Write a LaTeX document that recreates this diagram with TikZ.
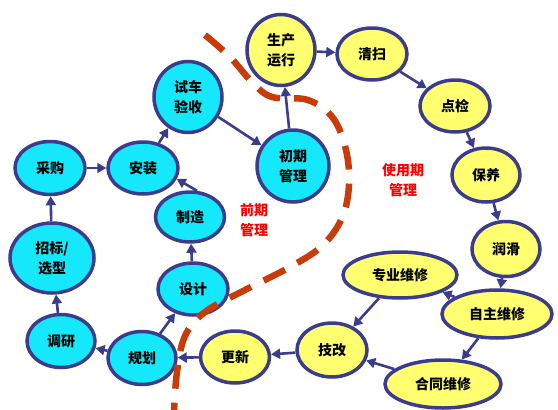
\documentclass[tikz,border=0pt]{standalone}
\usepackage{fontspec}
\setmainfont{Noto Sans CJK SC}
\usetikzlibrary{shapes.geometric,arrows.meta}
\definecolor{rim}{RGB}{60,60,140}
\definecolor{cyanfill}{RGB}{20,232,250}
\definecolor{yellowfill}{RGB}{255,255,112}
\definecolor{dashred}{RGB}{200,60,10}
\begin{document}
\begin{tikzpicture}[x=1pt,y=-1pt,
	phase/.style={ellipse,draw=rim,line width=3.5pt,inner sep=0pt,
		font=\fontsize{14}{20}\selectfont\bfseries,align=center},
	early/.style={phase,fill=cyanfill},
	later/.style={phase,fill=yellowfill},
	flow/.style={draw=rim,line width=2.6pt,-{Triangle[length=9pt,width=10pt]}},
	tag/.style={text=red,font=\fontsize{14}{20}\selectfont\bfseries,align=center}]
	\useasboundingbox (0,0) rectangle (558,410);

	\node[early,minimum width=70pt,minimum height=53pt] (caigou) at (50,168) {采购};
	\node[early,minimum width=70pt,minimum height=52pt] (anzhuang) at (143,168) {安装};
	\node[early,minimum width=68pt,minimum height=71pt] (shiche) at (188,97) {试车\\验收};
	\node[early,minimum width=72pt,minimum height=72pt] (chuqi) at (293,166) {初期\\管理};
	\node[early,minimum width=84pt,minimum height=70pt] (zhaobiao) at (52,258) {招标/\\选型};
	\node[early,minimum width=68pt,minimum height=53pt] (diaoyan) at (61,341) {调研};
	\node[early,minimum width=68pt,minimum height=53pt] (guihua) at (142,358) {规划};
	\node[early,minimum width=70pt,minimum height=52pt] (sheji) at (193,289) {设计};
	\node[early,minimum width=69pt,minimum height=50pt] (zhizao) at (190,217) {制造};

	\node[later,minimum width=68pt,minimum height=71pt] (shengchan) at (281,50) {生产\\运行};
	\node[later,minimum width=70pt,minimum height=52pt] (qingsao) at (372,54) {清扫};
	\node[later,minimum width=70pt,minimum height=52pt] (dianjian) at (455,106) {点检};
	\node[later,minimum width=68pt,minimum height=54pt] (baoyang) at (486,175) {保养};
	\node[later,minimum width=68pt,minimum height=55pt] (runhua) at (506,249) {润滑};
	\node[later,minimum width=110pt,minimum height=48pt] (zizhu) at (497,314) {自主维修};
	\node[later,minimum width=114pt,minimum height=46pt] (zhuanye) at (400,275) {专业维修};
	\node[later,minimum width=70pt,minimum height=54pt] (jigai) at (332,350) {技改};
	\node[later,minimum width=116pt,minimum height=48pt] (hetong) at (443,384) {合同维修};
	\node[later,minimum width=69pt,minimum height=52pt] (gengxin) at (235,357) {更新};

	\node[tag] (qianqi) at (254,220) {前期\\管理};
	\node[tag] (shiyong) at (403,180) {使用期\\管理};

	\draw[flow] (caigou) -- (anzhuang);
	\draw[flow] (zhaobiao) -- (caigou);
	\draw[flow] (diaoyan) -- (zhaobiao);
	\draw[flow] (guihua) -- (diaoyan);
	\draw[flow] (guihua) -- (sheji);
	\draw[flow] (sheji) -- (zhizao);
	\draw[flow] (zhizao.75) -- (anzhuang.-18);
	\draw[flow] (anzhuang) -- (shiche);
	\draw[flow] (shiche) -- (chuqi);
	\draw[flow] (chuqi) -- (shengchan);
	\draw[flow] (shengchan) -- (qingsao);
	\draw[flow] (qingsao) -- (dianjian);
	\draw[flow] (dianjian) -- (baoyang);
	\draw[flow] (baoyang) -- (runhua);
	\draw[flow] (runhua) -- (zizhu);
	\draw[flow] (zizhu) -- (zhuanye);
	\draw[flow] (zizhu) -- (hetong);
	\draw[flow] (zhuanye) -- (jigai);
	\draw[flow] (hetong) -- (jigai);
	\draw[flow] (jigai) -- (gengxin);
	\draw[flow] (gengxin) -- (guihua);

	\draw[dashred,line width=6.5pt,dash pattern=on 24pt off 14pt]
		plot[smooth,tension=0.6] coordinates {(205,35) (230,57) (252,82) (272,97) (308,100)
			(333,118) (346,150) (349,185) (342,218) (322,246) (290,267) (245,290)
			(205,312) (185,336) (177,372) (174,412)};
\end{tikzpicture}
\end{document}
